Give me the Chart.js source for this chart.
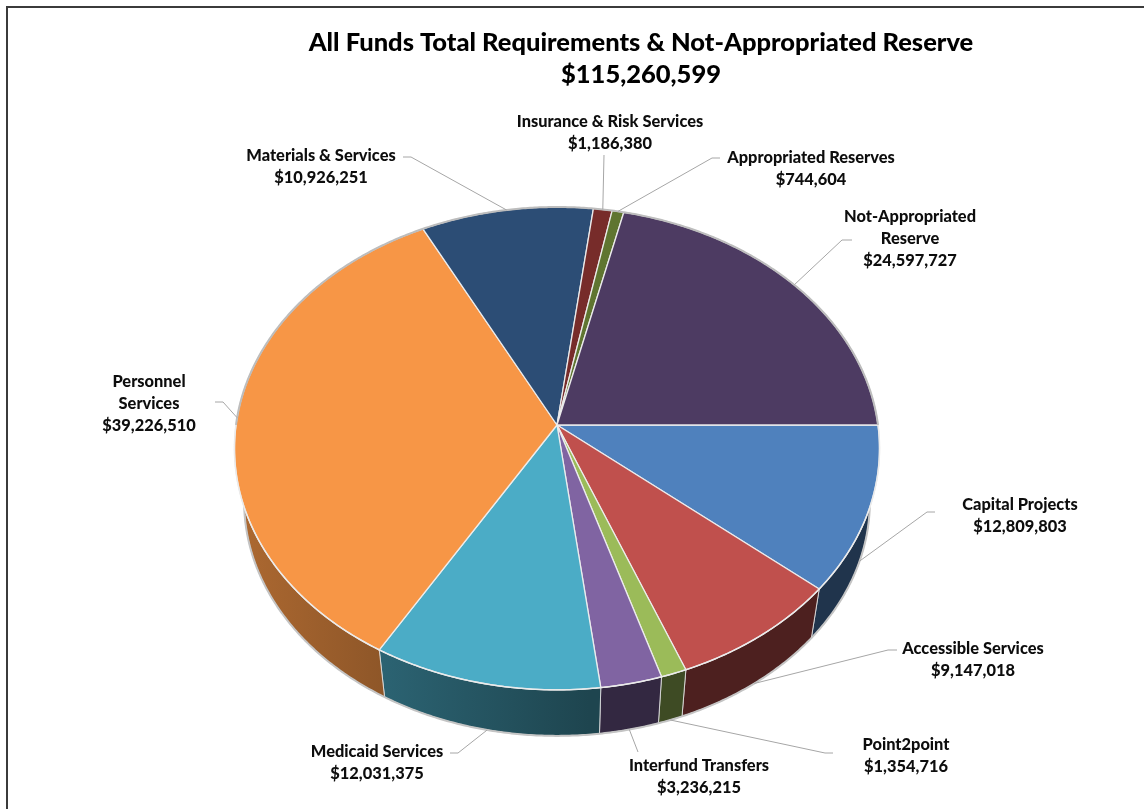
<!DOCTYPE html>
<html lang="en">
<head>
<meta charset="UTF-8">
<meta name="viewport" content="width=device-width, initial-scale=1.0">
<title>All Funds Total Requirements</title>
<style>
    html, body { margin: 0; padding: 0; background: #fff; }
    #wrap { position: relative; width: 1144px; height: 809px; }
</style>
</head>
<body>
<div id="wrap"><canvas id="fundsChart"></canvas></div>
<script src="https://cdn.jsdelivr.net/npm/chart.js"></script>
<script>
// slices run clockwise from 3 o'clock
const categories = ['Capital Projects', 'Accessible Services', 'Point2point', 'Interfund Transfers',
    'Medicaid Services', ['Personnel', 'Services'], 'Materials & Services', 'Insurance & Risk Services',
    'Appropriated Reserves', ['Not-Appropriated', 'Reserve']]
const amounts = [12809803, 9147018, 1354716, 3236215, 12031375, 39226510, 10926251, 1186380, 744604, 24597727]
const sliceColors = ['#4F81BD', '#C0504D', '#9BBB59', '#8064A2', '#4BACC6', '#F79646',
    '#2C4D75', '#772C2A', '#5F7530', '#4D3B62']
const titleText = 'All Funds Total Requirements & Not-Appropriated Reserve'

// label block: centre x, first line y, where the leader leaves the text and bends
const labelSpots = [
    { x: 1020, y: 505, tip: [935, 512], elbow: [927, 512] },
    { x: 973, y: 649, tip: [897, 650], elbow: [888, 650] },
    { x: 906, y: 745, tip: [833, 753], elbow: [825, 753] },
    { x: 699, y: 766, tip: [638, 752], elbow: [638, 752] },
    { x: 377, y: 752, tip: [450, 753], elbow: [458, 753] },
    { x: 149, y: 382, tip: [215, 402], elbow: [223, 402] },
    { x: 321, y: 156, tip: [403, 157], elbow: [411, 157] },
    { x: 610, y: 122, tip: [604, 155], elbow: [604, 155] },
    { x: 811, y: 158, tip: [720, 158], elbow: [712, 158] },
    { x: 910, y: 217, tip: [852, 240], elbow: [842, 240] }
]

// 3d look of the disc
const tilt = 0.745        // vertical squash of the top face
const persp = 0.097       // front of the disc comes closer
const depth = 54          // drop of the bottom face
const bottomScale = 0.97  // bottom face is further away

const money = v => '$' + v.toLocaleString('en-US')

function shade(hex, f) {
    const n = parseInt(hex.slice(1), 16)
    const r = Math.round(((n >> 16) & 255) * f)
    const g = Math.round(((n >> 8) & 255) * f)
    const b = Math.round((n & 255) * f)
    return `rgb(${r},${g},${b})`
}

function project(arc, r, a, level) {
    const k = arc.outerRadius * (level ? bottomScale : 1)
    const w = 1 - persp * r * Math.sin(a)
    return [arc.x + k * r * Math.cos(a) / w,
            arc.y + (level ? depth : 0) + k * tilt * r * Math.sin(a) / w]
}

function edge(ctx, arc, a1, a2, level, first) {
    const steps = Math.max(2, Math.ceil(Math.abs(a2 - a1) / 0.008))
    for (let i = 0; i <= steps; i++) {
        const p = project(arc, 1, a1 + (a2 - a1) * i / steps, level)
        if (i === 0 && first) ctx.moveTo(p[0], p[1])
        else ctx.lineTo(p[0], p[1])
    }
}

const pie3d = {
    id: 'pie3d',
    beforeDatasetDraw(chart, args) {
        const ctx = chart.ctx
        const arcs = args.meta.data
        const colors = chart.data.datasets[0].backgroundColor
        ctx.save()
        ctx.lineJoin = 'round'

        // side wall, only the front half shows
        arcs.forEach((arc, i) => {
            const a = Math.max(arc.startAngle, 0)
            const b = Math.min(arc.endAngle, Math.PI)
            if (b <= a) return
            const left = arc.x - arc.outerRadius
            const grad = ctx.createLinearGradient(left, 0, arc.x + arc.outerRadius * 0.1, 0)
            grad.addColorStop(0, shade(colors[i], 0.7))
            grad.addColorStop(1, shade(colors[i], 0.4))
            ctx.beginPath()
            edge(ctx, arc, a, b, 0, true)
            edge(ctx, arc, b, a, 1, false)
            ctx.closePath()
            ctx.fillStyle = grad
            ctx.fill()
            ctx.strokeStyle = 'rgba(225,225,225,0.85)'
            ctx.lineWidth = 1
            ctx.stroke()
        })

        // bottom rim
        ctx.beginPath()
        edge(ctx, arcs[0], 0, Math.PI, 1, true)
        ctx.strokeStyle = '#c4c4c4'
        ctx.lineWidth = 2
        ctx.stroke()

        // top faces
        arcs.forEach((arc, i) => {
            ctx.beginPath()
            ctx.moveTo(arc.x, arc.y)
            edge(ctx, arc, arc.startAngle, arc.endAngle, 0, false)
            ctx.closePath()
            ctx.fillStyle = colors[i]
            ctx.fill()
            ctx.strokeStyle = 'rgba(238,238,238,0.95)'
            ctx.lineWidth = 1.3
            ctx.stroke()
        })

        // soft grey rim round the top
        ctx.beginPath()
        edge(ctx, arcs[0], Math.PI, 2 * Math.PI, 0, true)
        ctx.strokeStyle = '#bdbdbd'
        ctx.lineWidth = 2
        ctx.stroke()
        ctx.beginPath()
        edge(ctx, arcs[0], 0, Math.PI, 0, true)
        ctx.strokeStyle = 'rgba(235,235,235,0.9)'
        ctx.lineWidth = 1.5
        ctx.stroke()

        ctx.restore()
        return false
    },
    afterDraw(chart) {
        const ctx = chart.ctx
        const arcs = chart.getDatasetMeta(0).data
        const total = amounts.reduce((s, v) => s + v, 0)
        ctx.save()

        // frame
        ctx.strokeStyle = '#3b3b3b'
        ctx.lineWidth = 2
        ctx.beginPath()
        ctx.moveTo(7, chart.height)
        ctx.lineTo(7, 7)
        ctx.lineTo(chart.width, 7)
        ctx.stroke()

        // title
        ctx.fillStyle = '#000'
        ctx.textAlign = 'center'
        ctx.textBaseline = 'middle'
        ctx.font = '900 25.5px Lato'
        ctx.fillText(titleText, 641, 43)
        ctx.fillText(money(total), 641, 75)

        // leaders and labels
        ctx.font = '900 16.4px Lato'
        arcs.forEach((arc, i) => {
            const spot = labelSpots[i]
            const mid = (arc.startAngle + arc.endAngle) / 2
            const end = project(arc, 1, mid, Math.sin(mid) > 0 ? 1 : 0)
            ctx.beginPath()
            ctx.moveTo(spot.tip[0], spot.tip[1])
            ctx.lineTo(spot.elbow[0], spot.elbow[1])
            ctx.lineTo(end[0], end[1])
            ctx.strokeStyle = '#a6a6a6'
            ctx.lineWidth = 1
            ctx.stroke()

            const name = chart.data.labels[i]
            const lines = (Array.isArray(name) ? name : [name]).concat(money(amounts[i]))
            ctx.fillStyle = '#0d0d0d'
            lines.forEach((t, j) => ctx.fillText(t, spot.x, spot.y + j * 21.7))
        })
        ctx.restore()
    }
}

new Chart(document.getElementById('fundsChart'), {
    type: 'pie',
    data: {
        labels: categories,
        datasets: [{
            data: amounts,
            backgroundColor: sliceColors,
            borderWidth: 0,
            hoverOffset: 0
        }]
    },
    options: {
        responsive: true,
        maintainAspectRatio: false,
        animation: false,
        events: [],
        rotation: 90,
        layout: { padding: { top: 104, left: 236, right: 266, bottom: 63 } },
        plugins: {
            legend: { display: false },
            tooltip: { enabled: false }
        }
    },
    plugins: [pie3d]
})
</script>
</body>
</html>
